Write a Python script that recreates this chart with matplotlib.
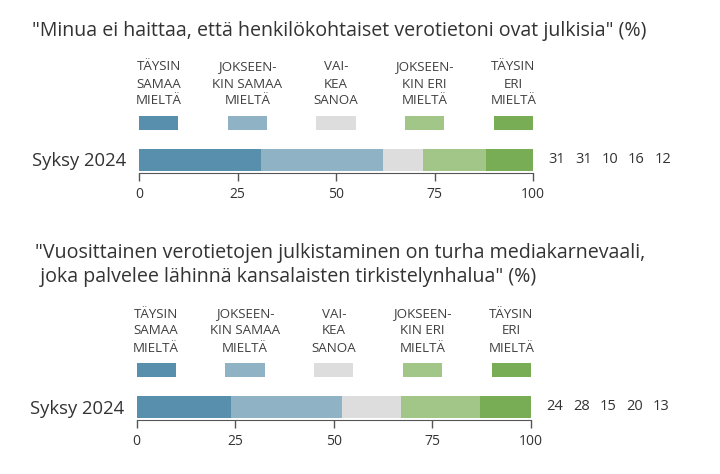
import matplotlib
matplotlib.use("Agg")
import matplotlib.pyplot as plt
import numpy as np

plt.rcParams['font.family'] = ['Open Sans', 'DejaVu Sans']

# ---- data ----
titles = [
    '"Minua ei haittaa, että henkilökohtaiset verotietoni ovat julkisia" (%)',
    '"Vuosittainen verotietojen julkistaminen on turha mediakarnevaali,\n joka palvelee lähinnä kansalaisten tirkistelynhalua" (%)',
]
categories = ["TÄYSIN\nSAMAA\nMIELTÄ", "JOKSEEN-\nKIN SAMAA\nMIELTÄ", "VAI-\nKEA\nSANOA",
              "JOKSEEN-\nKIN ERI\nMIELTÄ", "TÄYSIN\nERI\nMIELTÄ"]
row_label = "Syksy 2024"
values_q1 = [31, 31, 10, 16, 12]
values_q2 = [24, 28, 15, 20, 13]
xticks = [0, 25, 50, 75, 100]

colors = ["#588FAD", "#8FB3C5", "#DDDDDD", "#A2C588", "#78AC55"]
text_col = "#333333"

W, H = 720, 474
fig = plt.figure(figsize=(W / 100, H / 100), dpi=100)


def fx(px):
    return px / W


def fy(py):
    return 1 - py / H


def panel(title, title_x, title_y, values, x0, x1, axis_py):
    # axes: bottom at axis line, 63 px tall; y data units = pixels above axis line
    ah = 63
    ax = fig.add_axes([fx(x0), fy(axis_py), (x1 - x0) / W, ah / H])
    ax.set_xlim(0, 100)
    ax.set_ylim(0, ah)
    left = np.concatenate([[0], np.cumsum(values)[:-1]])
    for i in range(len(values)):
        ax.barh([13.5], [values[i]], left=[left[i]], height=22, color=colors[i])
    # legend boxes
    for i, cat in enumerate(categories):
        bx = i * 22.5
        ax.barh([50], [10], left=[bx], height=14, color=colors[i], clip_on=False)
        lines = cat.split("\n")
        for j, ln in enumerate(lines):
            ax.text(bx + 5, 106 - 17 * j, ln, ha="center", va="center",
                    fontsize=9.6, color="#404040", clip_on=False)
    # value labels
    for i, v in enumerate(values):
        ax.text(100 + 6.0 + i * 6.75, 13.5, str(v), ha="center", va="center",
                fontsize=10.5, color=text_col, clip_on=False)
    for s in ["top", "right", "left"]:
        ax.spines[s].set_visible(False)
    ax.spines["bottom"].set_color("#555555")
    ax.set_xticks(xticks)
    ax.set_xticklabels([str(t) for t in xticks], fontsize=10, color=text_col)
    ax.tick_params(axis="x", length=6, width=1, color="#555555", pad=4)
    ax.set_yticks([13.5])
    ax.set_yticklabels([row_label], fontsize=13.3, color=text_col)
    ax.tick_params(axis="y", length=0, pad=9)
    fig.text(fx(title_x), fy(title_y), title, ha="left", va="center", fontsize=14.1,
             color=text_col, linespacing=1.3)
    return ax


panel(titles[0], 32, 31, values_q1, 139, 533, 173)
panel(titles[1], 35, 265, values_q2, 136.5, 531, 420)

fig.savefig("out.png", dpi=100)
